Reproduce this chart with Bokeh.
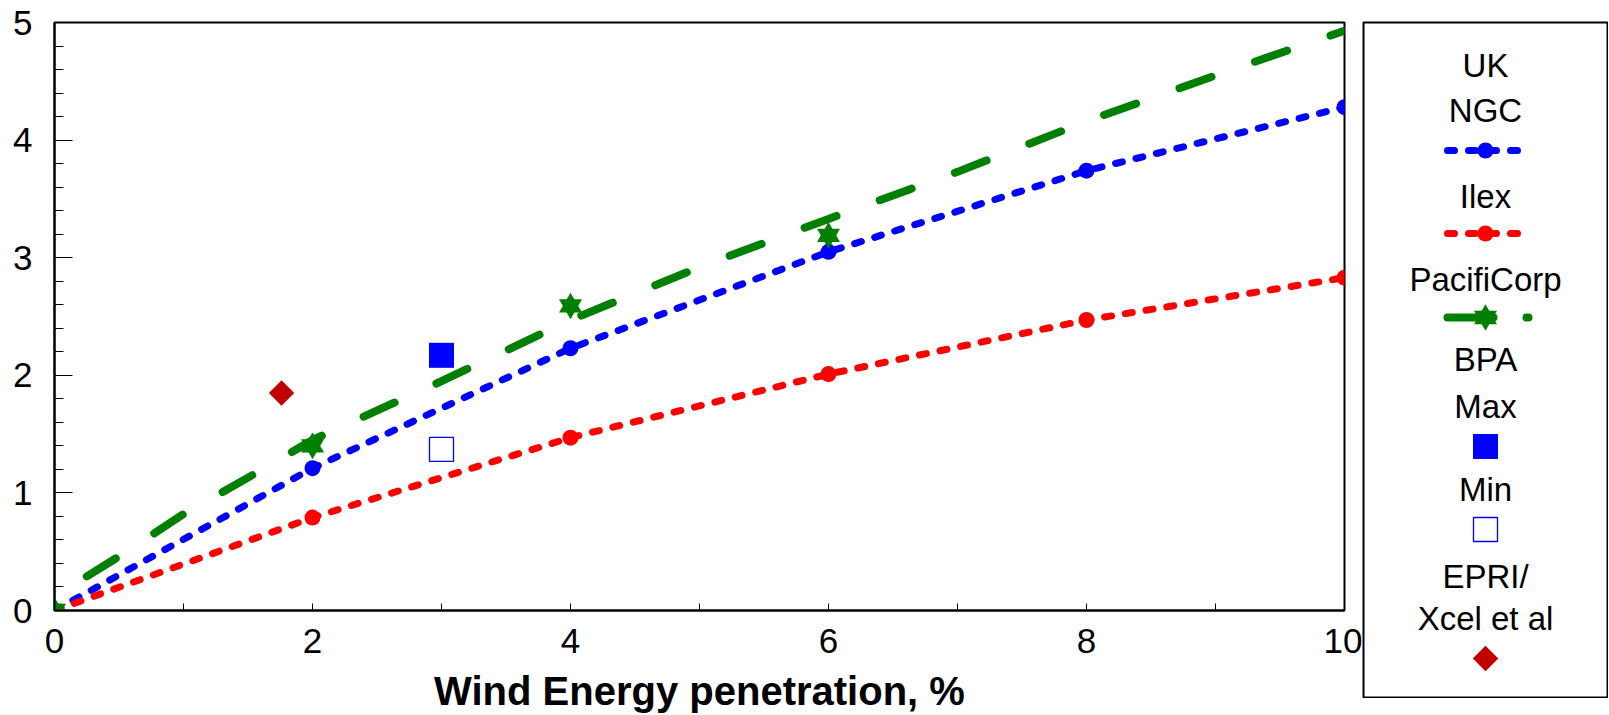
import math
from bokeh.plotting import figure
from bokeh.models import Range1d, FixedTicker
from bokeh.layouts import row
from bokeh.embed import file_html
from bokeh.resources import INLINE
from bokeh.core.properties import value

# ---------------- data ----------------
ngc_x = [0, 2, 4, 6, 8, 10]
ngc_y = [0.0, 1.21, 2.23, 3.05, 3.74, 4.28]

ilex_x = [0, 2, 4, 6, 8, 10]
ilex_y = [0.0, 0.79, 1.47, 2.01, 2.47, 2.83]

paci_x = [0, 2, 4, 6]
paci_y = [0.0, 1.40, 2.59, 3.19]

paci_fit_x = [0, 0.25, 0.5, 1, 1.5, 2, 3, 4, 5, 6, 7, 8, 9, 10]
paci_fit_y = [0.0, 0.29, 0.46, 0.82, 1.13, 1.45, 1.95, 2.47, 2.92, 3.33, 3.73, 4.16, 4.55, 4.93]

bpa_max_x = [3.0]
bpa_max_y = [2.17]
bpa_min_x = [3.0]
bpa_min_y = [1.37]

epri_x = [1.76]
epri_y = [1.85]

x_ticks = [0, 2, 4, 6, 8, 10]
x_minor = [1, 3, 5, 7, 9]
y_ticks = [0, 1, 2, 3, 4, 5]
y_minor = [i / 5 for i in range(0, 26)]

x_title = "Wind Energy penetration, %"
legend_labels = ["UK", "NGC", "Ilex", "PacifiCorp", "BPA", "Max", "Min", "EPRI/", "Xcel et al"]

BLUE = "#0000FF"
RED = "#FF0000"
GREEN = "#008000"
DKRED = "#C00000"
FONT = "Liberation Sans"

# ---------------- main plot ----------------
p = figure(width=1362, height=715,
           x_range=Range1d(0, 10), y_range=Range1d(0, 5),
           output_backend="svg", toolbar_location=None,
           min_border_left=54, min_border_top=22, min_border_right=18, min_border_bottom=105,
           background_fill_color="white", border_fill_color="white")
p.xgrid.visible = False
p.ygrid.visible = False
p.outline_line_color = "black"
p.outline_line_width = 2

p.xaxis.ticker = FixedTicker(ticks=x_ticks, minor_ticks=x_minor)
p.yaxis.ticker = FixedTicker(ticks=y_ticks, minor_ticks=y_minor)
for ax in (p.xaxis[0], p.yaxis[0]):
    ax.axis_line_color = "black"
    ax.axis_line_width = 2
    ax.major_tick_out = 0
    ax.minor_tick_out = 0
    ax.major_tick_line_color = "black"
    ax.minor_tick_line_color = "black"
    ax.major_label_text_font = FONT
    ax.major_label_text_font_size = "35px"
    ax.major_label_text_color = "black"
p.xaxis.major_tick_in = 7
p.xaxis.minor_tick_in = 7
p.xaxis.major_label_standoff = 18
p.yaxis.major_tick_in = 18
p.yaxis.minor_tick_in = 9
p.yaxis.major_label_standoff = 22

p.xaxis.axis_label = x_title
p.xaxis.axis_label_text_font = FONT
p.xaxis.axis_label_text_font_size = "40px"
p.xaxis.axis_label_text_font_style = "bold"
p.xaxis.axis_label_text_color = "black"
p.xaxis.axis_label_standoff = 13

# series
p.line(ngc_x, ngc_y, line_color=BLUE, line_width=7, line_dash="7 14", line_cap="round")
p.scatter(ngc_x, ngc_y, marker="circle", size=16, fill_color=BLUE, line_color=None)

p.line(ilex_x, ilex_y, line_color=RED, line_width=7, line_dash="7 14", line_cap="round")
p.scatter(ilex_x, ilex_y, marker="circle", size=16, fill_color=RED, line_color=None)

p.line(paci_fit_x, paci_fit_y, line_color=GREEN, line_width=8, line_dash="1 46 33 0",
       line_cap="round")
p.scatter(paci_x, paci_y, marker="triangle", size=23, fill_color=GREEN, line_color=None)
p.scatter(paci_x, paci_y, marker="inverted_triangle", size=23, fill_color=GREEN, line_color=None)

p.scatter(bpa_max_x, bpa_max_y, marker="square", size=25, fill_color=BLUE, line_color=None)
p.scatter(bpa_min_x, bpa_min_y, marker="square", size=24, fill_color="white",
          line_color=BLUE, line_width=1.3)
p.scatter(epri_x, epri_y, marker="square", angle=math.pi / 4, size=18,
          fill_color=DKRED, line_color=None)

# ---------------- legend panel (coordinates = pixels inside the box) ----------------
LX0, LX1, LY0, LY1 = 1363, 1607, 22, 697
leg = figure(frame_width=LX1 - LX0, frame_height=LY1 - LY0,
             x_range=Range1d(LX0, LX1), y_range=Range1d(LY1, LY0),
             x_axis_type=None, y_axis_type=None,
             output_backend="svg", toolbar_location=None,
             min_border_left=1, min_border_right=1, min_border_top=LY0, min_border_bottom=1,
             background_fill_color="white", border_fill_color="white")
leg.grid.visible = False
leg.outline_line_color = "black"
leg.outline_line_width = 2

cx = (LX0 + LX1) / 2
label_y = [65, 110, 196, 279, 359, 406, 489, 576, 618]
leg.text(x=[cx] * len(legend_labels), y=label_y, text=legend_labels,
         text_font=value(FONT), text_font_size=value("33px"),
         text_align="center", text_baseline="middle", text_color="black")

sx = [cx - 38, cx + 43]
leg.line(sx, [150, 150], line_color=BLUE, line_width=7, line_dash="7 14", line_cap="round")
leg.scatter([cx], [150], marker="circle", size=16, fill_color=BLUE, line_color=None)
leg.line(sx, [233, 233], line_color=RED, line_width=7, line_dash="7 14", line_cap="round")
leg.scatter([cx], [233], marker="circle", size=16, fill_color=RED, line_color=None)
leg.line(sx, [317, 317], line_color=GREEN, line_width=8, line_dash="46 33", line_cap="round")
leg.scatter([cx], [317], marker="triangle", size=23, fill_color=GREEN, line_color=None)
leg.scatter([cx], [317], marker="inverted_triangle", size=23, fill_color=GREEN, line_color=None)
leg.scatter([cx], [446], marker="square", size=25, fill_color=BLUE, line_color=None)
leg.scatter([cx], [529], marker="square", size=24, fill_color="white", line_color=BLUE, line_width=1.3)
leg.scatter([cx], [658], marker="square", angle=math.pi / 4, size=18, fill_color=DKRED, line_color=None)

layout = row(p, leg)
open("out.html", "w").write(file_html(layout, INLINE))
